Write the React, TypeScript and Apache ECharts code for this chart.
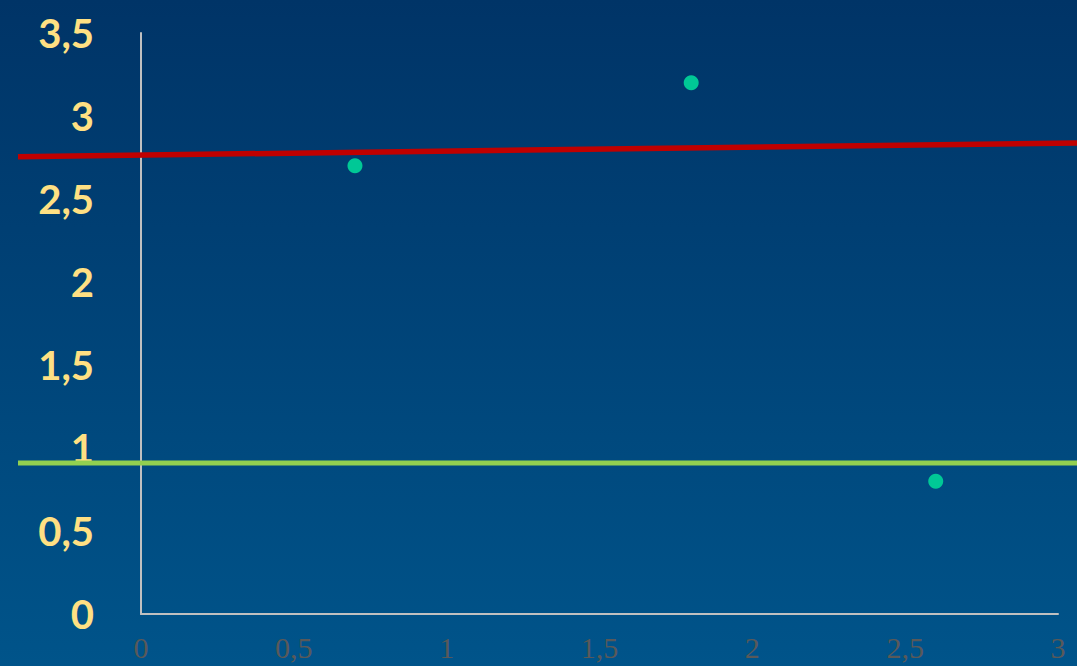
import React, { useEffect, useRef } from "react";
import * as echarts from "echarts";

const yTicks = ["0", "0,5", "1", "1,5", "2", "2,5", "3", "3,5"];
const xTicks = ["0", "0,5", "1", "1,5", "2", "2,5", "3"];
const pointsX = [0.7, 1.8, 2.6];
const pointsY = [2.7, 3.2, 0.8];
const redLineX = [-0.4024, 3.062];
const redLineY = [2.755, 2.837];
const greenLineX = [-0.4024, 3.062];
const greenLineY = [0.91, 0.91];

const fmt = (v: number) => String(v).replace(".", ",");

export default function App() {
  const ref = useRef<HTMLDivElement>(null);
  useEffect(() => {
    document.body.style.margin = "0";
    const chart = echarts.init(ref.current!, undefined, { renderer: "svg" });
    chart.setOption({
      animation: false,
      backgroundColor: {
        type: "linear",
        x: 0, y: 0, x2: 0, y2: 1,
        colorStops: [
          { offset: 0, color: "#003467" },
          { offset: 1, color: "#00548a" },
        ],
      },
      grid: [
        { left: 141, top: 33, right: 19, bottom: 52 },
        { left: 18, top: 33, right: 0, bottom: 52 },
      ],
      xAxis: [
        {
          type: "value",
          gridIndex: 0,
          min: 0,
          max: 3,
          interval: 0.5,
          axisLine: { show: true, lineStyle: { color: "#c0c0c0", width: 2 } },
          axisTick: { show: false },
          splitLine: { show: false },
          axisLabel: {
            formatter: (v: number) => fmt(v),
            color: "#595959",
            fontFamily: "Liberation Serif",
            fontSize: 30,
            margin: 18,
            showMaxLabel: true,
          },
        },
        {
          type: "value",
          gridIndex: 1,
          min: redLineX[0],
          max: redLineX[1],
          show: false,
        },
      ],
      yAxis: [
        {
          type: "value",
          gridIndex: 0,
          min: 0,
          max: 3.5,
          interval: 0.5,
          axisLine: { show: true, onZero: false, lineStyle: { color: "#c0c0c0", width: 2 } },
          axisTick: { show: false },
          splitLine: { show: false },
          axisLabel: {
            formatter: (v: number) => fmt(v),
            color: "#ffe083",
            fontFamily: "Lato",
            fontWeight: "bold",
            fontSize: 40,
            margin: 47,
          },
        },
        {
          type: "value",
          gridIndex: 1,
          min: 0,
          max: 3.5,
          show: false,
        },
      ],
      series: [
        {
          type: "line",
          xAxisIndex: 1,
          yAxisIndex: 1,
          data: redLineX.map((x, i) => [x, redLineY[i]]),
          showSymbol: false,
          symbol: "none",
          lineStyle: { color: "#c00000", width: 5.5 },
          z: 2,
        },
        {
          type: "line",
          xAxisIndex: 1,
          yAxisIndex: 1,
          data: greenLineX.map((x, i) => [x, greenLineY[i]]),
          showSymbol: false,
          symbol: "none",
          lineStyle: { color: "#92d050", width: 5 },
          z: 2,
        },
        {
          type: "scatter",
          xAxisIndex: 0,
          yAxisIndex: 0,
          data: pointsX.map((x, i) => [x, pointsY[i]]),
          symbolSize: 15,
          itemStyle: { color: "#00c896", opacity: 1 },
          z: 3,
        },
      ],
    });
    return () => chart.dispose();
  }, []);
  return (
    <div
      ref={ref}
      style={{ position: "absolute", left: 0, top: 0, width: 1077, height: 666 }}
    />
  );
}
